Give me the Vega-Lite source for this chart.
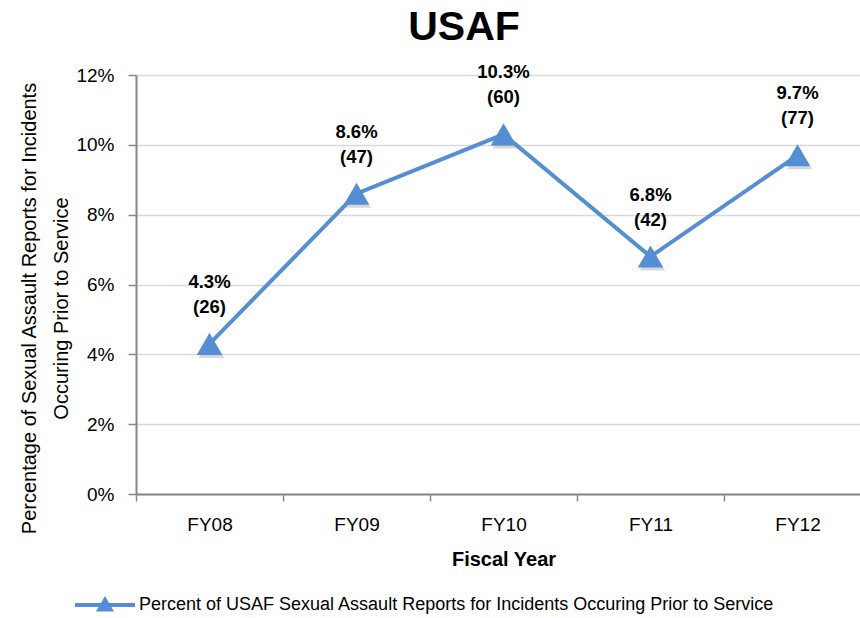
{
  "$schema": "https://vega.github.io/schema/vega-lite/v6.json",
  "autosize": {"type": "none"},
  "padding": {"left": 136, "top": 75, "right": 0, "bottom": 124},
  "width": 724,
  "height": 419,
  "background": "white",
  "config": {
    "font": "Liberation Sans",
    "view": {"stroke": null}
  },
  "title": {
    "text": "USAF",
    "fontSize": 41,
    "fontWeight": "bold",
    "font": "Liberation Sans",
    "color": "#000000",
    "anchor": "middle",
    "dx": -34,
    "offset": 14
  },
  "data": {
    "values": [
      {"year": "FY08", "pct": 0.043, "label": "4.3%\n(26)", "series": "Percent of USAF Sexual Assault Reports for Incidents Occuring Prior to Service"},
      {"year": "FY09", "pct": 0.086, "label": "8.6%\n(47)", "series": "Percent of USAF Sexual Assault Reports for Incidents Occuring Prior to Service"},
      {"year": "FY10", "pct": 0.103, "label": "10.3%\n(60)", "series": "Percent of USAF Sexual Assault Reports for Incidents Occuring Prior to Service"},
      {"year": "FY11", "pct": 0.068, "label": "6.8%\n(42)", "series": "Percent of USAF Sexual Assault Reports for Incidents Occuring Prior to Service"},
      {"year": "FY12", "pct": 0.097, "label": "9.7%\n(77)", "series": "Percent of USAF Sexual Assault Reports for Incidents Occuring Prior to Service"}
    ]
  },
  "encoding": {
    "x": {
      "field": "year",
      "type": "nominal",
      "sort": null,
      "scale": {"type": "band", "range": [0, 735], "paddingInner": 0, "paddingOuter": 0},
      "axis": {
        "title": "Fiscal Year",
        "titleFont": "Liberation Sans",
        "titleFontSize": 20,
        "titleFontWeight": "bold",
        "titleColor": "#000000",
        "titlePadding": 15,
        "labelFont": "Liberation Sans",
        "labelFontSize": 19,
        "labelColor": "#000000",
        "labelAngle": 0,
        "labelPadding": 14,
        "tickBand": "extent",
        "tickSize": 7,
        "tickColor": "#868686",
        "tickWidth": 1.5,
        "domainColor": "#868686",
        "domainWidth": 2,
        "grid": false
      }
    },
    "y": {
      "field": "pct",
      "type": "quantitative",
      "scale": {"domain": [0, 0.12], "nice": false},
      "axis": {
        "title": ["Percentage of Sexual Assault Reports for Incidents", "Occuring Prior to Service"],
        "titleFont": "Liberation Sans",
        "titleFontSize": 20,
        "titleFontWeight": "normal",
        "titleColor": "#000000",
        "titleX": -97,
        "titleY": 233,
        "titleLineHeight": 32,
        "format": ".0%",
        "values": [0, 0.02, 0.04, 0.06, 0.08, 0.1, 0.12],
        "labelFont": "Liberation Sans",
        "labelFontSize": 19,
        "labelColor": "#000000",
        "labelPadding": 14,
        "tickSize": 8,
        "tickColor": "#868686",
        "tickWidth": 1.5,
        "domainColor": "#868686",
        "domainWidth": 2,
        "gridColor": "#D9D9D9",
        "gridWidth": 1.5
      }
    }
  },
  "layer": [
    {
      "mark": {"type": "line", "strokeWidth": 4},
      "encoding": {
        "color": {
          "field": "series",
          "type": "nominal",
          "scale": {"range": ["#558ED5"]},
          "legend": {
            "title": null,
            "orient": "none",
            "legendX": -61,
            "legendY": 500,
            "labelFont": "Liberation Sans",
            "labelFontSize": 18,
            "labelColor": "#000000",
            "labelLimit": 1000,
            "labelOffset": 4,
            "symbolType": "M-1,-0.07H1V0.07H-1Z M0,-0.3L0.3,0.22H-0.3Z",
            "symbolSize": 3600,
            "symbolStrokeWidth": 0,
            "symbolFillColor": "#558ED5",
            "encode": {"symbols": {"update": {"fill": {"value": "#558ED5"}, "strokeWidth": {"value": 0}}}}
          }
        }
      }
    },
    {
      "mark": {"type": "point", "shape": "triangle-up", "filled": true, "opacity": 0.3, "size": 650, "color": "#7F7F7F", "yOffset": 3, "xOffset": 2},
      "encoding": {}
    },
    {
      "mark": {"type": "point", "shape": "triangle-up", "filled": true, "opacity": 1, "size": 650, "color": "#558ED5"}
    },
    {
      "mark": {"type": "text", "lineBreak": "\n", "fontSize": 18.5, "fontWeight": "bold", "font": "Liberation Sans", "color": "#000000", "baseline": "bottom", "dy": -52, "lineHeight": 25},
      "encoding": {"text": {"field": "label"}}
    }
  ]
}
